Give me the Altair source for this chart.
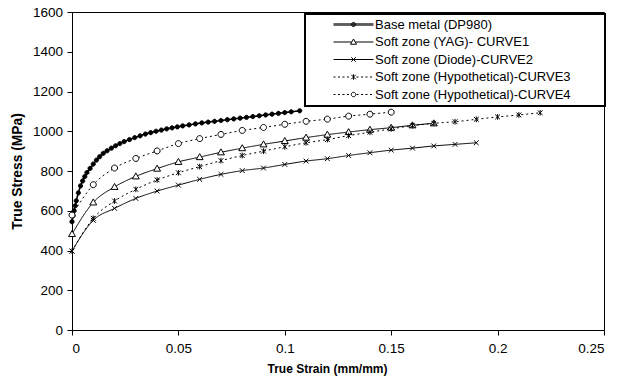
import altair as alt
import pandas as pd

series_names = [
    "Base metal (DP980)",
    "Soft zone (YAG)- CURVE1",
    "Soft zone (Diode)-CURVE2",
    "Soft zone (Hypothetical)-CURVE3",
    "Soft zone (Hypothetical)-CURVE4",
]

base_strain = [0, 0.0005, 0.001, 0.0015, 0.002, 0.003, 0.004, 0.005, 0.006, 0.007,
               0.0085, 0.010, 0.0115, 0.013, 0.0147, 0.0165, 0.0185, 0.0205, 0.0225, 0.0245,
               0.027, 0.0295, 0.032, 0.0345, 0.037, 0.0395, 0.042, 0.0445, 0.047, 0.0495,
               0.052, 0.055, 0.058, 0.061, 0.064, 0.067, 0.070, 0.073, 0.076, 0.079,
               0.082, 0.085, 0.088, 0.091, 0.094, 0.097, 0.100, 0.103, 0.107]
base_stress = [545, 575, 600, 625, 650, 690, 725, 750, 772, 792,
               813, 835, 855, 872, 889, 902, 915, 927, 938, 948,
               958, 968, 977, 986, 993, 1000, 1006, 1012, 1017, 1022,
               1027, 1032, 1037, 1042, 1046, 1050, 1054, 1058, 1062, 1066,
               1070, 1074, 1078, 1082, 1086, 1090, 1094, 1098, 1103]

c1_strain = [0, 0.01, 0.02, 0.03, 0.04, 0.05, 0.06, 0.07, 0.08, 0.09,
             0.10, 0.11, 0.12, 0.13, 0.14, 0.15, 0.16, 0.17]
c1_stress = [483, 642, 720, 773, 812, 846, 870, 894, 915, 934,
             951, 968, 983, 996, 1008, 1018, 1030, 1040]

c2_strain = [0, 0.01, 0.02, 0.03, 0.04, 0.05, 0.06, 0.07, 0.08, 0.09,
             0.10, 0.11, 0.12, 0.13, 0.14, 0.15, 0.16, 0.17, 0.18, 0.19]
c2_stress = [397, 552, 612, 662, 699, 729, 758, 783, 802, 815,
             833, 850, 862, 878, 892, 905, 915, 926, 934, 942]

c3_strain = [0, 0.01, 0.02, 0.03, 0.04, 0.05, 0.06, 0.07, 0.08, 0.09,
             0.10, 0.11, 0.12, 0.13, 0.14, 0.15, 0.16, 0.17, 0.18, 0.19,
             0.20, 0.21, 0.22]
c3_stress = [397, 562, 649, 708, 755, 791, 822, 852, 878, 900,
             922, 942, 958, 978, 995, 1012, 1028, 1040, 1048, 1060,
             1072, 1082, 1093]

c4_strain = [0, 0.01, 0.02, 0.03, 0.04, 0.05, 0.06, 0.07, 0.08, 0.09,
             0.10, 0.11, 0.12, 0.13, 0.14, 0.15]
c4_stress = [578, 731, 815, 863, 901, 938, 963, 984, 1004, 1019,
             1035, 1050, 1061, 1076, 1086, 1096]

x_ticks = [0, 0.05, 0.1, 0.15, 0.2, 0.25]
y_ticks = [0, 200, 400, 600, 800, 1000, 1200, 1400, 1600]

frames = []
for name, xs, ys in zip(series_names,
                        [base_strain, c1_strain, c2_strain, c3_strain, c4_strain],
                        [base_stress, c1_stress, c2_stress, c3_stress, c4_stress]):
    frames.append(pd.DataFrame({"strain": xs, "stress": ys, "series": name}))
df = pd.concat(frames, ignore_index=True)


# ---- marker shapes (styles) ----
def circ(r):
    return f"M{r},0A{r},{r},0,1,1,{-r},0A{r},{r},0,1,1,{r},0Z"


def xmark(r):
    return f"M{-r},{-r}L{r},{r}M{-r},{r}L{r},{-r}"


marker_paths = [
    circ(0.7),
    "M0,-1.15L1.15,0.85L-1.15,0.85Z",
    xmark(0.8),
    xmark(0.8) + "M0,-0.95L0,0.95",
    circ(1.0),
]


def dots(a, b, dash=0.4, period=0.9):
    out = ""
    p = a
    while p + dash <= b + 1e-9:
        out += f"M{p:.2f},0h{dash}"
        p += period
    return out


# invisible anchors widen the legend box to the reference's extent
anchor = "M-8.8,0h0.001M49,0h0.001"
legend_paths = [
    anchor + "M-4,-0.12H4M-4,0.12H4" + circ(0.42) + circ(0.18),
    anchor + "M-4,0H-0.36M0.36,0H4" + "M0,-0.6L0.6,0.45L-0.6,0.45Z",
    anchor + "M-4,0H4" + xmark(0.45),
    anchor + dots(-4, -0.55) + dots(0.6, 4) + xmark(0.45) + "M0,-0.55L0,0.55",
    anchor + dots(-4, -0.55) + dots(0.6, 4) + circ(0.45),
]

x_enc = alt.X(
    "strain:Q",
    scale=alt.Scale(domain=[0, 0.25], nice=False, zero=False),
    axis=alt.Axis(values=x_ticks, format="~g", title="True Strain (mm/mm)",
                  grid=False, tickSize=5, labelPadding=6, titlePadding=9,
                  titleFontSize=12, titleX=255, titleAlign="center"),
)
y_enc = alt.Y(
    "stress:Q",
    scale=alt.Scale(domain=[0, 1600], nice=False),
    axis=alt.Axis(values=y_ticks, format="d", title="True Stress (MPa)",
                  grid=False, tickSize=5, labelPadding=4.5, titlePadding=8,
                  titleFontSize=13.8),
)

lines = alt.Chart(df).mark_line(color="black", interpolate="monotone").encode(
    x=x_enc,
    y=y_enc,
    detail="series:N",
    strokeDash=alt.StrokeDash(
        "series:N",
        scale=alt.Scale(domain=series_names,
                        range=[[1, 0], [1, 0], [1, 0], [2, 3], [2, 3]]),
        legend=None,
    ),
    strokeWidth=alt.condition(alt.datum.series == series_names[0],
                              alt.value(1.6), alt.value(1)),
)

points = alt.Chart(df).mark_point(
    filled=True, stroke="black", strokeWidth=1, size=36, opacity=1
).encode(
    x=x_enc,
    y=y_enc,
    shape=alt.Shape("series:N",
                    scale=alt.Scale(domain=series_names, range=marker_paths),
                    legend=None),
    fill=alt.Fill("series:N",
                  scale=alt.Scale(domain=series_names,
                                  range=["black", "white", "white", "white", "white"]),
                  legend=None),
)

legend_layer = alt.Chart(df).mark_point(size=0, color="black").encode(
    x=x_enc,
    y=y_enc,
    shape=alt.Shape(
        "series:N",
        scale=alt.Scale(domain=series_names, range=legend_paths),
        legend=alt.Legend(
            title=None,
            orient="none",
            legendX=233,
            legendY=2,
            padding=4,
            rowPadding=3.5,
            symbolOffset=38,
            labelOffset=15,
            symbolSize=100,
            symbolStrokeWidth=1,
            symbolStrokeColor="black",
            symbolOpacity=1,
            labelFont="Liberation Sans",
            labelFontSize=13,
            labelColor="black",
            labelLimit=400,
            strokeColor="black",
            fillColor="white",
        ),
    ),
)

chart = (
    alt.layer(lines, points, legend_layer)
    .resolve_scale(shape="independent")
    .properties(
        width=532,
        height=318,
        padding={"left": 72, "top": 12, "right": 26, "bottom": 55},
        autosize=alt.AutoSizeParams(type="none"),
        background="white",
    )
    .configure_view(stroke="black", strokeWidth=1)
    .configure_legend(strokeWidth=2)
    .configure_axis(
        domainColor="black",
        tickColor="black",
        labelColor="black",
        titleColor="black",
        labelFont="Liberation Sans",
        labelFontSize=13.5,
        titleFont="Liberation Sans",
        titleFontWeight="bold",
    )
)

chart.save("out.html", embed_options={"renderer": "svg", "actions": False})
